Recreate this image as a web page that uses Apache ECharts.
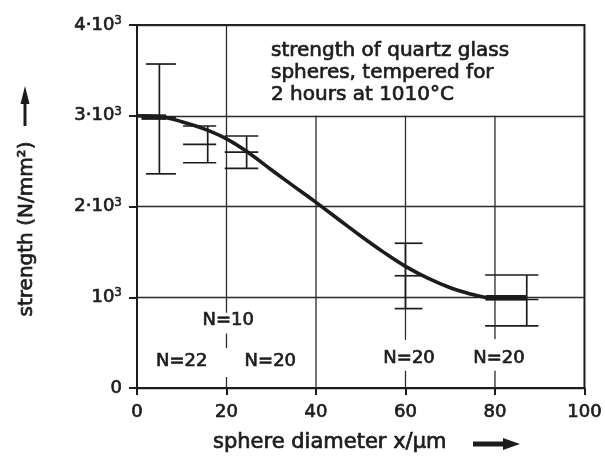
<!DOCTYPE html>
<html><head><meta charset="utf-8">
<script src="https://cdn.jsdelivr.net/npm/echarts@6/dist/echarts.min.js"></script>
<style>html,body{margin:0;padding:0;background:#fff}#c{width:605px;height:460px}</style>
</head><body><div id="c"></div>
<script>
// ---- data ----
const xTickLabels = ['0','20','40','60','80','100'];
const yTickLabels = ['0','10^3','2·10^3','3·10^3','4·10^3'];
// error bars: position of vertical bar, low, mean, high, cap start, cap end (μm)
const barX     = [5.0, 15.8, 24.5, 60.0, 87.1];
const barLow   = [2360, 2482, 2420, 875, 685];
const barMean  = [2985, 2685, 2600, 1237, 975];
const barHigh  = [3570, 2887, 2777, 1595, 1245];
const capStart = [2.0, 10.3, 19.6, 57.6, 77.8];
const capEnd   = [8.7, 17.7, 27.1, 63.8, 89.7];
// fitted strength curve
const curveX = [0, 5, 10, 15, 20, 25, 30, 35, 40, 45, 50, 55, 60, 65, 70, 75, 78];
const curveY = [3000, 2990, 2935, 2855, 2745, 2590, 2405, 2225, 2045, 1860, 1675, 1500, 1340, 1210, 1105, 1030, 998];
// thick mean segments
const thickStart = [1.0, 78.0];
const thickEnd   = [6.5, 87.1];
const thickY     = [2985, 995];
// sample counts
const nLabels = ['N=22', 'N=10', 'N=20', 'N=20', 'N=20'];
const nX      = [10.0, 20.4, 29.8, 60.8, 80.9];
const nY      = [297, 741, 297, 330, 330];
// vertical grid lines (x, from, to) with gaps around labels
const vGridX    = [20, 20, 20, 40, 60, 60, 80, 80];
const vGridFrom = [0, 440, 830, 0, 0, 530, 0, 540];
const vGridTo   = [120, 600, 4000, 3000, 190, 3000, 190, 3000];
const boxText = 'strength of quartz glass\nspheres, tempered for\n2 hours at 1010°C';
const xTitle = 'sphere diameter x/μm';
const yTitle = 'strength (N/mm²)';

// ---- chart ----
const FONT = 'DejaVu Sans';
const INK = '#1c1c1c';
const BW = 0.7; // text stroke to emulate the heavier print face
const chart = echarts.init(document.getElementById('c'), null, {renderer: 'canvas'});

const barData = barX.map((x, i) => [x, barLow[i], barMean[i], barHigh[i], capStart[i], capEnd[i]]);
const gridData = vGridX.map((x, i) => [x, vGridFrom[i], vGridTo[i]]);
const thickData = thickStart.map((s, i) => [s, thickY[i], thickEnd[i]]);
const nData = nX.map((x, i) => [x, nY[i]]);

function seg(a, b, style) {
  return {type: 'line', shape: {x1: a[0], y1: a[1], x2: b[0], y2: b[1]}, style: style};
}
const txt = (size) => ({fontFamily: FONT, fontSize: size, fontWeight: 'normal', color: INK, textBorderColor: INK, textBorderWidth: BW});

chart.setOption({
  backgroundColor: '#fff',
  animation: false,
  title: {
    text: boxText, left: 266, top: 35,
    textStyle: Object.assign(txt(20), {lineHeight: 22})
  },
  grid: {left: 137, right: 18, top: 25, bottom: 72, show: true, borderColor: INK, borderWidth: 2, backgroundColor: 'transparent'},
  xAxis: {
    type: 'value', min: 0, max: 100, interval: 20,
    axisLine: {show: true, lineStyle: {color: INK, width: 2}},
    axisTick: {show: true, inside: false, length: 7, lineStyle: {color: INK, width: 2}},
    axisLabel: Object.assign(txt(18), {margin: 15, formatter: v => xTickLabels[Math.round(v / 20)]}),
    splitLine: {show: false}
  },
  yAxis: {
    type: 'value', min: 0, max: 4000, interval: 1000,
    axisLine: {show: true, lineStyle: {color: INK, width: 2}},
    axisTick: {show: true, inside: false, length: 8, lineStyle: {color: INK, width: 2}},
    axisLabel: Object.assign(txt(18), {margin: 15,
      formatter: v => yTickLabels[Math.round(v / 1000)].replace('^3', '{sup|3}'),
      rich: {sup: Object.assign(txt(12), {textBorderWidth: 0.5, verticalAlign: 'top', padding: [0, 0, 8, 0]})}}),
    splitLine: {show: true, lineStyle: {color: '#2a2a2a', width: 1.3}}
  },
  graphic: [
    {type: 'text', x: 27, y: 229, rotation: Math.PI / 2,
      style: {text: yTitle, fontFamily: FONT, fontSize: 20, fill: INK, stroke: INK, lineWidth: BW, align: 'center', verticalAlign: 'middle'}},
    {type: 'rect', shape: {x: 23.5, y: 102, width: 3, height: 24}, style: {fill: INK}},
    {type: 'polygon', shape: {points: [[25, 86], [20.5, 104], [29.5, 104]]}, style: {fill: INK}},
    {type: 'text', x: 213, y: 443,
      style: {text: xTitle, fontFamily: FONT, fontSize: 21, fill: INK, stroke: INK, lineWidth: BW, align: 'left', verticalAlign: 'middle'}},
    {type: 'rect', shape: {x: 473, y: 441.5, width: 32, height: 5}, style: {fill: INK}},
    {type: 'polygon', shape: {points: [[520, 444], [503, 438], [503, 450]]}, style: {fill: INK}}
  ],
  series: [
    {
      type: 'custom', name: 'grid', data: gridData, silent: true, z: 1,
      renderItem: (p, api) => seg(api.coord([api.value(0), api.value(1)]), api.coord([api.value(0), api.value(2)]),
        {stroke: '#2a2a2a', lineWidth: 1.3})
    },
    {
      type: 'line', name: 'curve', data: curveX.map((x, i) => [x, curveY[i]]),
      smooth: 0.4, showSymbol: false, symbol: 'none', z: 4,
      lineStyle: {color: INK, width: 3.6}
    },
    {
      type: 'custom', name: 'thick', data: thickData, z: 5,
      renderItem: (p, api) => seg(api.coord([api.value(0), api.value(1)]), api.coord([api.value(2), api.value(1)]),
        {stroke: INK, lineWidth: 5.5})
    },
    {
      type: 'custom', name: 'error bars', data: barData, z: 3,
      renderItem: (p, api) => {
        const x = api.value(0), lo = api.value(1), me = api.value(2), hi = api.value(3), cs = api.value(4), ce = api.value(5);
        const st = {stroke: INK, lineWidth: 1.7};
        return {type: 'group', children: [
          seg(api.coord([x, lo]), api.coord([x, hi]), st),
          seg(api.coord([cs, lo]), api.coord([ce, lo]), st),
          seg(api.coord([cs, me]), api.coord([ce, me]), st),
          seg(api.coord([cs, hi]), api.coord([ce, hi]), st)
        ]};
      }
    },
    {
      type: 'custom', name: 'N', data: nData, z: 6,
      renderItem: (p, api) => {
        const c = api.coord([api.value(0), api.value(1)]);
        return {type: 'text', x: c[0], y: c[1],
          style: {text: nLabels[p.dataIndex], fontFamily: FONT, fontSize: 18, fill: INK, stroke: INK, lineWidth: BW,
            align: 'center', verticalAlign: 'middle'}};
      }
    }
  ]
});
</script></body></html>
